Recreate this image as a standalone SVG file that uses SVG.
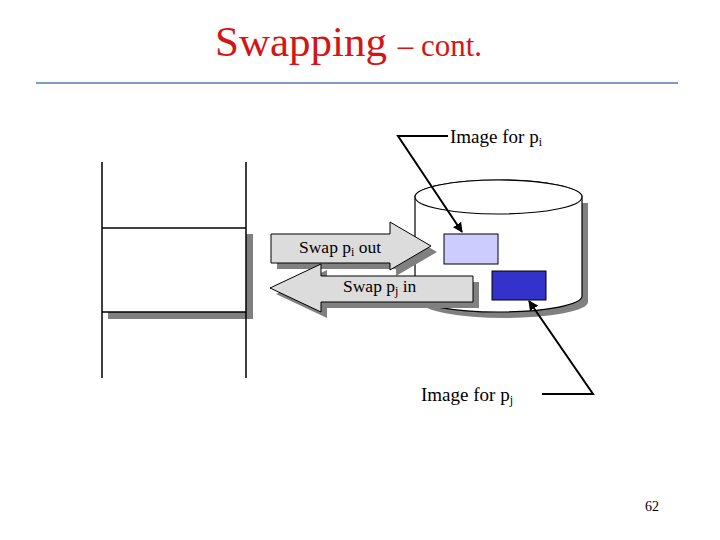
<svg xmlns="http://www.w3.org/2000/svg" width="720" height="540" viewBox="0 0 720 540">
<defs>
<style>
.t{font-family:"Liberation Serif","Times New Roman",serif;fill:#000}
.sub{font-size:12px}
.ln{stroke:#000;stroke-width:1.5;fill:none}
.sh{fill:#808080}
.arrow{fill:#dcdcdc;stroke:#000;stroke-width:1}
.conn{stroke:#000;stroke-width:2;fill:none}
</style>
<marker id="ah" viewBox="0 0 10 10" refX="9" refY="5" markerWidth="5" markerHeight="5" orient="auto" markerUnits="strokeWidth">
<path d="M0,0 L10,5 L0,10 Z" fill="#000"/>
</marker>
</defs>
<rect width="720" height="540" fill="#fff"/>
<g id="title">
<text x="215" y="56" font-family="'Liberation Serif', serif" font-size="43" fill="#d41515">Swapping <tspan font-size="31">– cont.</tspan></text>
<line x1="36" y1="83" x2="678" y2="83" stroke="#7b9dc3" stroke-width="2"/>
</g>
<g id="memory">
<rect x="108" y="234" width="145" height="85" class="sh"/>
<rect x="102" y="228" width="144" height="84" fill="#fff"/>
<line x1="102" y1="162" x2="102" y2="378" class="ln"/>
<line x1="246" y1="162" x2="246" y2="378" class="ln"/>
<line x1="102" y1="228" x2="246" y2="228" class="ln"/>
<line x1="102" y1="312" x2="246" y2="312" class="ln"/>
</g>
<g id="disk">
<path d="M421,203 L421,302 A83.5,16 0 0 0 588,302 L588,203 Z" class="sh"/>
<path d="M415,197 L415,296 A83.5,16 0 0 0 582,296 L582,197 A83.5,17 0 0 0 415,197 Z" fill="#fff" stroke="#000" stroke-width="1.2"/>
<ellipse cx="498.5" cy="197" rx="83.5" ry="17" fill="#fff" stroke="#000" stroke-width="1.2"/>
</g>
<g id="image-pi">
<rect x="444" y="234" width="54" height="30" fill="#ccccff" stroke="#000" stroke-width="1"/>
</g>
<g id="image-pj">
<rect x="492" y="271" width="54" height="29" fill="#3333cc" stroke="#000" stroke-width="1"/>
</g>
<g id="swap-out">
<polygon points="277,240 396,240 396,228 437,252 396,276 396,269 277,269" class="sh"/>
<polygon points="271,234 390,234 390,222 431,246 390,270 390,263 271,263" class="arrow"/>
<text x="299" y="253" class="t" font-size="17.5">Swap p<tspan class="sub" dy="3">i</tspan><tspan dy="-3"> out</tspan></text>
</g>
<g id="swap-in">
<polygon points="276,294 327,270 327,282 479,282 479,308 327,308 327,318" class="sh"/>
<polygon points="270,288 321,264 321,276 473,276 473,302 321,302 321,312" class="arrow"/>
<text x="343" y="292" class="t" font-size="17.5">Swap p<tspan class="sub" dy="3">j</tspan><tspan dy="-3"> in</tspan></text>
</g>
<g id="connectors">
<polyline points="448,136 398,136 462,232" class="conn" marker-end="url(#ah)"/>
<polyline points="542,394 593,394 529,301" class="conn" marker-end="url(#ah)"/>
</g>
<g id="label-pi">
<text x="450" y="143" class="t" font-size="19">Image for p<tspan class="sub" dy="3">i</tspan></text>
</g>
<g id="label-pj">
<text x="421" y="401" class="t" font-size="19">Image for p<tspan class="sub" dy="3">j</tspan></text>
</g>
<text x="645" y="511" class="t" font-size="14">62</text>
</svg>
